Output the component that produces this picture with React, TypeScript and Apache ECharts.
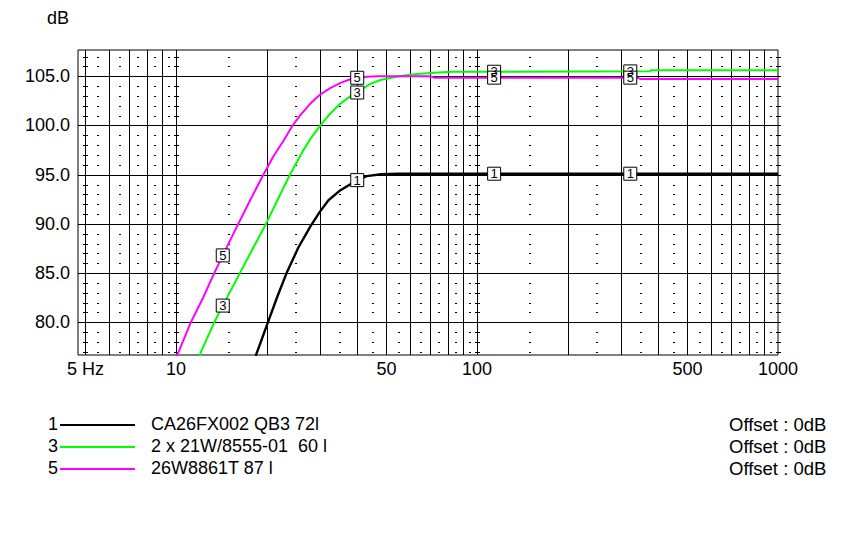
import React, { useEffect, useRef } from "react";
import * as echarts from "echarts";

// ---- data ----
const curve1Freq = [18.4, 20.2, 21.7, 23.3, 25.5, 27.9, 30, 32.1, 35.1, 38.8, 40, 43, 48, 55, 1000];
const curve1Db = [76.6, 80.0, 82.6, 85.0, 87.6, 89.7, 91.2, 92.4, 93.4, 94.2, 94.45, 94.85, 95.05, 95.1, 95.1];

const curve3Freq = [12.0, 12.1, 13.4, 14.3, 16.3, 18.0, 19.9, 21.8, 23.9, 26.5, 28.2, 30.0, 32.5, 35.1, 38.4, 40, 44, 48, 50.1, 55, 60, 65, 72, 83, 376, 378, 1000];
const curve3Db = [76.5, 77.0, 80.0, 81.7, 85.0, 87.5, 90.0, 92.5, 95.0, 97.5, 98.8, 99.9, 101.2, 102.2, 103.1, 103.35, 104.2, 104.65, 104.75, 105.0, 105.15, 105.25, 105.35, 105.45, 105.5, 105.62, 105.62];

const curve5Freq = [10.0, 10.2, 11.2, 12.3, 13.4, 14.3, 16.1, 17.7, 19.5, 21.0, 22.7, 24.4, 25.8, 27.9, 30, 32.5, 35.1, 37.9, 40, 43, 46.5, 70, 72, 340, 350, 1000];
const curve5Db = [76.5, 77.0, 80.0, 82.5, 85.0, 86.8, 90.0, 92.5, 95.0, 96.8, 98.4, 100.0, 101.0, 102.2, 103.1, 103.8, 104.3, 104.7, 104.85, 104.95, 105.0, 105.0, 104.86, 104.86, 104.73, 104.73];

const seriesIds = ["1", "3", "5"];
const seriesNames = ["CA26FX002 QB3 72l", "2 x 21W/8555-01  60 l", "26W8861T 87 l"];
const seriesOffsets = ["Offset : 0dB", "Offset : 0dB", "Offset : 0dB"];
const seriesColors = ["#000000", "#00ff00", "#ff00ff"];

const markerFreqs = [14.3, 40, 114, 323];

const xTickValues = [5, 10, 50, 100, 500, 1000];
const xTickLabels = ["5 Hz", "10", "50", "100", "500", "1000"];
const yTickValues = [80, 85, 90, 95, 100, 105];
const yTickLabels = ["80.0", "85.0", "90.0", "95.0", "100.0", "105.0"];

const vGridFreqs = [5, 6, 7, 8, 9, 10, 20, 30, 40, 50, 60, 70, 80, 90, 100, 200, 300, 400, 500, 600, 700, 800, 900];
const dotFreqs = [5.5, 6.5, 7.5, 8.5, 9.5, 15, 25, 35, 45, 55, 65, 75, 85, 95, 150, 250, 350, 450, 550, 650, 750, 850, 950];
const tickFreqs = [5, 10, 100, 1000];
const dbLevels = [77, 78, 79, 80, 81, 82, 83, 84, 85, 86, 87, 88, 89, 90, 91, 92, 93, 94, 95, 96, 97, 98, 99, 100, 101, 102, 103, 104, 105, 106, 107];

const X_MIN = 4.725;
const X_MAX = 1000;
const Y_MIN = 76.68;
const Y_MAX = 107.67;

const FONT = "'Liberation Sans', Arial, sans-serif";

function interp(fs: number[], vs: number[], f: number): number | null {
  if (f < fs[0] || f > fs[fs.length - 1]) return null;
  for (let i = 0; i < fs.length - 1; i++) {
    if (f >= fs[i] && f <= fs[i + 1]) {
      const t = (Math.log(f) - Math.log(fs[i])) / (Math.log(fs[i + 1]) - Math.log(fs[i]));
      return vs[i] + t * (vs[i + 1] - vs[i]);
    }
  }
  return null;
}

const crisp = (v: number) => Math.round(v) + 0.5;

export default function App() {
  const ref = useRef<HTMLDivElement>(null);
  useEffect(() => {
    document.body.style.margin = "0";
    if (!ref.current) return;
    const chart = echarts.init(ref.current, null, { renderer: "svg" });

    const curves = [
      { f: curve1Freq, v: curve1Db, width: 2.4 },
      { f: curve3Freq, v: curve3Db, width: 2 },
      { f: curve5Freq, v: curve5Db, width: 2 },
    ];

    const lineSeries = curves.map((c, i) => {
      const markers: any[] = [];
      markerFreqs.forEach((mf) => {
        const y = interp(c.f, c.v, mf);
        if (y !== null && y >= Y_MIN) markers.push({ coord: [mf, y], value: seriesIds[i] });
      });
      return {
        type: "line",
        name: seriesIds[i],
        data: c.f.map((f, k) => [f, c.v[k]]),
        showSymbol: false,
        symbol: "none",
        clip: true,
        z: 3,
        lineStyle: { color: seriesColors[i], width: c.width, join: "round" },
        itemStyle: { color: seriesColors[i] },
        markPoint: {
          symbol: "rect",
          symbolSize: [13, 13],
          itemStyle: { color: "#ffffff", borderColor: "#000000", borderWidth: 1 },
          label: {
            show: true,
            position: "inside",
            color: "#000000",
            fontSize: 13,
            fontFamily: FONT,
            formatter: seriesIds[i],
          },
          data: markers,
        },
      };
    });

    const dotData: number[][] = [];
    dotFreqs.forEach((f) => dbLevels.forEach((d) => dotData.push([f, d])));
    const tickData: number[][] = [];
    tickFreqs.forEach((f) => dbLevels.forEach((d) => tickData.push([f, d])));

    const option: any = {
      animation: false,
      backgroundColor: "#ffffff",
      grid: {
        left: 78,
        top: 50,
        width: 700,
        height: 305,
        show: true,
        borderColor: "#000000",
        borderWidth: 1,
        backgroundColor: "transparent",
      },
      xAxis: {
        type: "log",
        logBase: 10,
        min: X_MIN,
        max: X_MAX,
        axisLine: { show: false },
        axisTick: { show: false },
        axisLabel: { show: false },
        splitLine: { show: false },
      },
      yAxis: {
        type: "value",
        min: Y_MIN,
        max: Y_MAX,
        axisLine: { show: false },
        axisTick: { show: false },
        axisLabel: { show: false },
        splitLine: { show: false },
      },
      graphic: [
        {
          type: "text",
          left: 47,
          top: 9,
          style: { text: "dB", fontSize: 18, fontFamily: FONT, fill: "#000" },
        },
        ...seriesIds.flatMap((id, i) => {
          const y = 424 + 22 * i;
          return [
            {
              type: "text",
              x: 58,
              y: y,
              style: { text: id, fontSize: 18, fontFamily: FONT, fill: "#000", align: "right", verticalAlign: "middle" },
            },
            {
              type: "line",
              shape: { x1: 60, y1: y + 1, x2: 135, y2: y + 1 },
              style: { stroke: seriesColors[i], lineWidth: 2 },
            },
            {
              type: "text",
              x: 151,
              y: y,
              style: { text: seriesNames[i], fontSize: 18, fontFamily: FONT, fill: "#000", verticalAlign: "middle" },
            },
            {
              type: "text",
              x: 729,
              y: y,
              style: { text: seriesOffsets[i], fontSize: 18.5, fontFamily: FONT, fill: "#000", verticalAlign: "middle" },
            },
          ];
        }),
      ],
      series: [
        {
          type: "custom",
          name: "vgrid",
          z: 1,
          silent: true,
          data: vGridFreqs.map((f) => [f, Y_MIN]),
          renderItem: (_p: any, api: any) => {
            const f = api.value(0);
            const a = api.coord([f, Y_MAX]);
            const b = api.coord([f, Y_MIN]);
            const x = crisp(a[0]);
            return { type: "line", shape: { x1: x, y1: a[1], x2: x, y2: b[1] }, style: { stroke: "#000", lineWidth: 1 } };
          },
        },
        {
          type: "custom",
          name: "hgrid",
          z: 1,
          silent: true,
          data: yTickValues.map((v, i) => [X_MIN, v, i]),
          renderItem: (_p: any, api: any) => {
            const v = api.value(1);
            const i = api.value(2);
            const a = api.coord([X_MIN, v]);
            const b = api.coord([X_MAX, v]);
            const y = crisp(a[1]);
            return {
              type: "group",
              children: [
                { type: "line", shape: { x1: a[0], y1: y, x2: b[0], y2: y }, style: { stroke: "#000", lineWidth: 1 } },
                {
                  type: "text",
                  x: a[0] - 8,
                  y: a[1],
                  style: { text: yTickLabels[i], fontSize: 18, fontFamily: FONT, fill: "#000", align: "right", verticalAlign: "middle" },
                },
              ],
            };
          },
        },
        {
          type: "custom",
          name: "xlabels",
          z: 1,
          silent: true,
          data: xTickValues.map((v, i) => [v, Y_MIN, i]),
          renderItem: (_p: any, api: any) => {
            const f = api.value(0);
            const i = api.value(2);
            const a = api.coord([f, Y_MIN]);
            return {
              type: "text",
              x: a[0],
              y: a[1] + 14,
              style: { text: xTickLabels[i], fontSize: 18, fontFamily: FONT, fill: "#000", align: "center", verticalAlign: "middle" },
            };
          },
        },
        {
          type: "custom",
          name: "dots",
          z: 1,
          silent: true,
          data: dotData,
          renderItem: (_p: any, api: any) => {
            const a = api.coord([api.value(0), api.value(1)]);
            return { type: "rect", shape: { x: Math.round(a[0]) - 1, y: Math.round(a[1]), width: 2, height: 1 }, style: { fill: "#000" } };
          },
        },
        {
          type: "custom",
          name: "ticks",
          z: 1,
          silent: true,
          data: tickData,
          renderItem: (_p: any, api: any) => {
            const a = api.coord([api.value(0), api.value(1)]);
            return { type: "rect", shape: { x: Math.round(a[0]) - 2, y: Math.round(a[1]), width: 5, height: 1 }, style: { fill: "#000" } };
          },
        },
        ...lineSeries,
      ],
    };
    chart.setOption(option);
    return () => chart.dispose();
  }, []);
  return <div ref={ref} style={{ width: 856, height: 550 }} />;
}
